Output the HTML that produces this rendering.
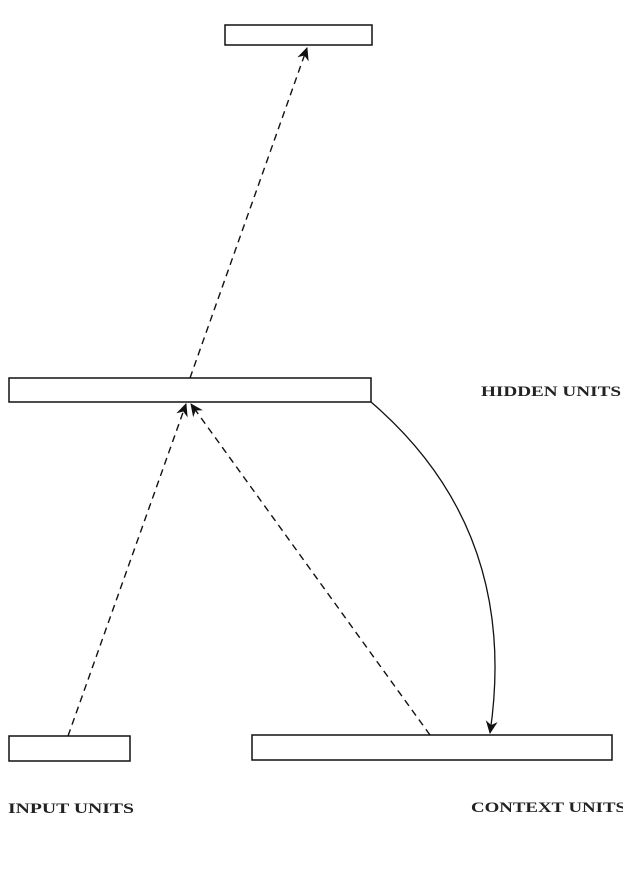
<!DOCTYPE html>
<html><head><style>
body{margin:0;background:#fff}
text{font-family:"Liberation Serif",serif;font-size:15px;font-weight:bold;fill:#222}
</style></head><body>
<svg width="623" height="889" xmlns="http://www.w3.org/2000/svg">
<defs><marker id="a" markerWidth="14" markerHeight="14" refX="12" refY="6" orient="auto" markerUnits="userSpaceOnUse">
<path d="M0,0 L13,6 L0,12 L4,6 Z" fill="#111"/></marker></defs>
<g fill="#fff" stroke="#111" stroke-width="1.5">
<rect x="225" y="25" width="147" height="20"/>
<rect x="9" y="378" width="362" height="24"/>
<rect x="9" y="736" width="121" height="25"/>
<rect x="252" y="735" width="360" height="25"/>
</g>
<g stroke="#111" stroke-width="1.4" fill="none" stroke-dasharray="7,5">
<line x1="190" y1="378" x2="307" y2="48" marker-end="url(#a)"/>
<line x1="68" y1="736" x2="186" y2="404" marker-end="url(#a)"/>
<line x1="430" y1="735" x2="191" y2="404" marker-end="url(#a)"/>
</g>
<path d="M371,402 Q520,530 490,733" stroke="#111" stroke-width="1.3" fill="none" marker-end="url(#a)"/>
<text x="481" y="396" textLength="140" lengthAdjust="spacingAndGlyphs">HIDDEN UNITS</text>
<text x="8" y="813" textLength="126" lengthAdjust="spacingAndGlyphs">INPUT UNITS</text>
<text x="471" y="812" textLength="155" lengthAdjust="spacingAndGlyphs">CONTEXT UNITS</text>
</svg>
</body></html>
